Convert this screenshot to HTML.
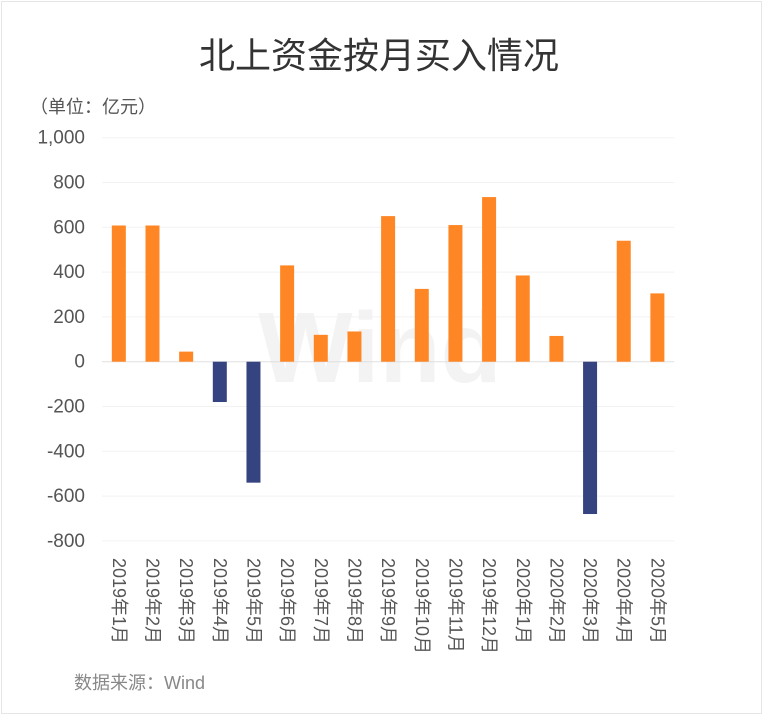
<!DOCTYPE html>
<html><head><meta charset="utf-8"><style>
body{margin:0;background:#fff;}
#wrap{position:relative;width:763px;height:715px;overflow:hidden;font-family:"Liberation Sans","Noto Sans CJK SC",sans-serif;}
</style></head><body>
<div id="wrap">
<svg id="chart" width="763" height="715"></svg>
</div>
<script>
const categories=["2019年1月","2019年2月","2019年3月","2019年4月","2019年5月","2019年6月","2019年7月","2019年8月","2019年9月","2019年10月","2019年11月","2019年12月","2020年1月","2020年2月","2020年3月","2020年4月","2020年5月"];
const values=[608,608,45,-180,-540,430,120,135,650,325,610,735,385,115,-680,540,305];
const yTicks=[1000,800,600,400,200,0,-200,-400,-600,-800];
const yTickLabels=["1,000","800","600","400","200","0","-200","-400","-600","-800"];

const NS="http://www.w3.org/2000/svg";
const svg=document.getElementById('chart');
const x0=102,step=33.66,barW=14;
function yScale(v){return 361.7-v*0.224;}
function xScale(i){return x0+step*(i+0.5);}
function mk(tag,attrs,parent){const e=document.createElementNS(NS,tag);for(const k in attrs)e.setAttribute(k,attrs[k]);(parent||svg).appendChild(e);return e;}

const border=mk('rect',{x:1.5,y:1.5,width:760,height:712,fill:'none',stroke:'#e6e6e6'});



const title=mk('text',{x:379,y:68,'text-anchor':'middle','font-size':36,fill:'#333'});
title.textContent='北上资金按月买入情况';



const unit=mk('text',{x:30,y:113,'font-size':18,fill:'#555'});
unit.textContent='（单位：亿元）';



const wm=mk('text',{x:380,y:382,'text-anchor':'middle','font-size':100,'font-weight':'bold',fill:'#f3f3f3'});
wm.textContent='Wind';



yTicks.forEach((t,i)=>{
  const y=yScale(t);
  const g=mk('line',{x1:x0,x2:x0+step*categories.length,y1:y,y2:y,stroke:t===0?'#e0e0e0':'#f2f2f2','stroke-width':1});
  
  
  const l=mk('text',{x:85,y:y+6,'text-anchor':'end','font-size':19,fill:'#555'});
  l.textContent=yTickLabels[i];
  
  
});

categories.forEach((c,i)=>{
  const v=values[i];
  const cx=xScale(i);
  const y1=yScale(Math.max(v,0)),y2=yScale(Math.min(v,0));
  const r=mk('rect',{x:cx-barW/2,y:y1,width:barW,height:y2-y1,fill:v>=0?'#ff8625':'#364381'});
  
  
  const t=mk('text',{x:0,y:0,'font-size':18,fill:'#555',transform:`translate(${cx-6},558) rotate(90)`});
  t.textContent=c;
  
  
});

const src=mk('text',{x:74,y:689,'font-size':18,fill:'#888'});
src.textContent='数据来源：Wind';


</script>
</body></html>
